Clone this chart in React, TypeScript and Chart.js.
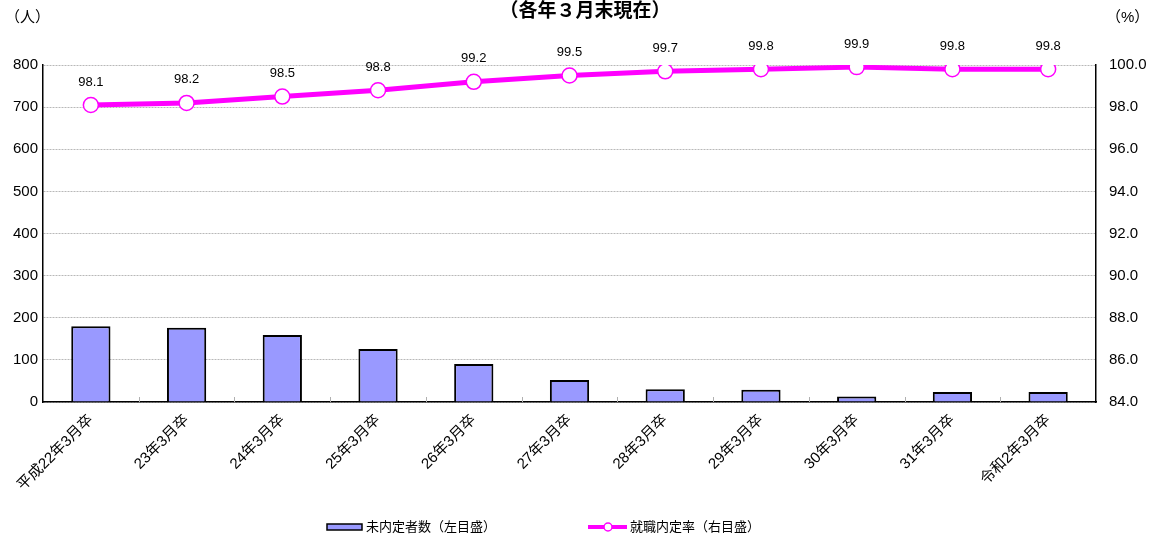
import React, { useEffect, useRef } from "react";
import { Chart, registerables } from "chart.js";

Chart.register(...registerables);

const categories = [
  "平成22年3月卒",
  "23年3月卒",
  "24年3月卒",
  "25年3月卒",
  "26年3月卒",
  "27年3月卒",
  "28年3月卒",
  "29年3月卒",
  "30年3月卒",
  "31年3月卒",
  "令和2年3月卒",
];
const unplacedCounts = [180, 176, 159, 126, 90, 52, 30, 29, 13, 24, 24];
const placementRates = [98.1, 98.2, 98.5, 98.8, 99.2, 99.5, 99.7, 99.8, 99.9, 99.8, 99.8];

const titleText = "（各年３月末現在）";
const leftUnit = "（人）";
const rightUnit = "（%）";
const barLegend = "未内定者数（左目盛）";
const lineLegend = "就職内定率（右目盛）";

const FONT = "'Liberation Sans', 'Noto Sans CJK JP', sans-serif";
const MAGENTA = "#FF00FF";
const BAR_FILL = "#9999FF";

const overlayPlugin = {
  id: "overlay",
  afterDatasetsDraw(chart: any) {
    const { ctx, chartArea, scales } = chart;
    const x = scales.x;
    ctx.save();
    // small tick marks between categories
    ctx.strokeStyle = "#b0b0b0";
    ctx.lineWidth = 1;
    for (let i = 1; i < categories.length; i++) {
      const px = (x.getPixelForValue(i - 1) + x.getPixelForValue(i)) / 2;
      ctx.beginPath();
      ctx.moveTo(Math.round(px) + 0.5, chartArea.bottom);
      ctx.lineTo(Math.round(px) + 0.5, chartArea.bottom - 5);
      ctx.stroke();
    }
    // data labels
    const meta = chart.getDatasetMeta(0);
    ctx.fillStyle = "#000";
    ctx.font = `13px ${FONT}`;
    ctx.textAlign = "center";
    ctx.textBaseline = "middle";
    meta.data.forEach((pt: any, i: number) => {
      ctx.fillText(placementRates[i].toFixed(1), pt.x, pt.y - 23);
    });
    ctx.restore();
  },
  afterDraw(chart: any) {
    const { ctx } = chart;
    ctx.save();
    ctx.fillStyle = "#000";
    ctx.textBaseline = "middle";
    // title
    ctx.font = `bold 19px ${FONT}`;
    ctx.textAlign = "center";
    ctx.fillText(titleText, 585, 12);
    // units
    ctx.font = `15px ${FONT}`;
    ctx.textAlign = "left";
    ctx.fillText(leftUnit, 5, 18);
    ctx.fillText(rightUnit, 1106, 18);
    // legend
    const ly = 527;
    ctx.fillStyle = BAR_FILL;
    ctx.fillRect(327, ly - 3, 35, 6);
    ctx.strokeStyle = "#000";
    ctx.lineWidth = 1.5;
    ctx.strokeRect(327, ly - 3, 35, 6);
    ctx.fillStyle = "#000";
    ctx.font = `13px ${FONT}`;
    ctx.fillText(barLegend, 366, ly);
    ctx.strokeStyle = MAGENTA;
    ctx.lineWidth = 4;
    ctx.beginPath();
    ctx.moveTo(588, ly);
    ctx.lineTo(627, ly);
    ctx.stroke();
    ctx.beginPath();
    ctx.arc(608, ly, 4, 0, Math.PI * 2);
    ctx.fillStyle = "#fff";
    ctx.fill();
    ctx.lineWidth = 1.5;
    ctx.stroke();
    ctx.fillStyle = "#000";
    ctx.fillText(lineLegend, 630, ly);
    ctx.restore();
  },
};

export default function App() {
  const canvasRef = useRef<HTMLCanvasElement | null>(null);

  useEffect(() => {
    if (!canvasRef.current) return;
    const chart = new Chart(canvasRef.current, {
      type: "bar",
      data: {
        labels: categories,
        datasets: [
          {
            type: "line",
            label: lineLegend,
            data: placementRates,
            yAxisID: "y1",
            borderColor: MAGENTA,
            borderWidth: 5,
            pointRadius: 7.5,
            pointBackgroundColor: "#fff",
            pointBorderColor: MAGENTA,
            pointBorderWidth: 1.5,
            tension: 0,
            order: 0,
          } as any,
          {
            type: "bar",
            label: barLegend,
            data: unplacedCounts,
            yAxisID: "y",
            backgroundColor: BAR_FILL,
            borderColor: "#000",
            borderWidth: 2,
            barPercentage: 0.41,
            categoryPercentage: 1,
            order: 1,
          } as any,
        ],
      },
      options: {
        responsive: false,
        animation: false,
        devicePixelRatio: 1,
        layout: { padding: { top: 65, left: 0, right: 0, bottom: 0 } },
        plugins: {
          legend: { display: false },
          tooltip: { enabled: false },
        },
        scales: {
          x: {
            offset: true,
            grid: { display: false },
            border: { color: "#000", width: 1.5 },
            ticks: {
              color: "#000",
              font: { family: FONT, size: 15 },
              maxRotation: 45,
              minRotation: 45,
              autoSkip: false,
              padding: 1,
            },
            afterFit(scale: any) {
              scale.height = 133;
              scale.paddingLeft = 0;
              scale.paddingRight = 0;
            },
          },
          y: {
            position: "left",
            min: 0,
            max: 800,
            ticks: {
              stepSize: 100,
              color: "#000",
              font: { family: FONT, size: 15 },
              padding: 5,
            },
            grid: {
              color: "#b8b8b8",
              drawTicks: false,
            },
            border: { color: "#000", width: 1.5, dash: [2, 1] } as any,
            afterFit(scale: any) {
              scale.width = 43;
            },
          },
          y1: {
            position: "right",
            min: 84,
            max: 100,
            ticks: {
              stepSize: 2,
              color: "#000",
              font: { family: FONT, size: 15 },
              padding: 13,
              callback: (v: any) => Number(v).toFixed(1),
            },
            grid: { display: false, drawTicks: false },
            border: { color: "#000", width: 1.5 },
            afterFit(scale: any) {
              scale.width = 54;
            },
          },
        },
      },
      plugins: [overlayPlugin],
    });
    return () => chart.destroy();
  }, []);

  return (
    <div style={{ position: "absolute", left: 0, top: 0, width: 1150, height: 535, background: "#fff" }}>
      <canvas ref={canvasRef} width={1150} height={535} />
    </div>
  );
}
